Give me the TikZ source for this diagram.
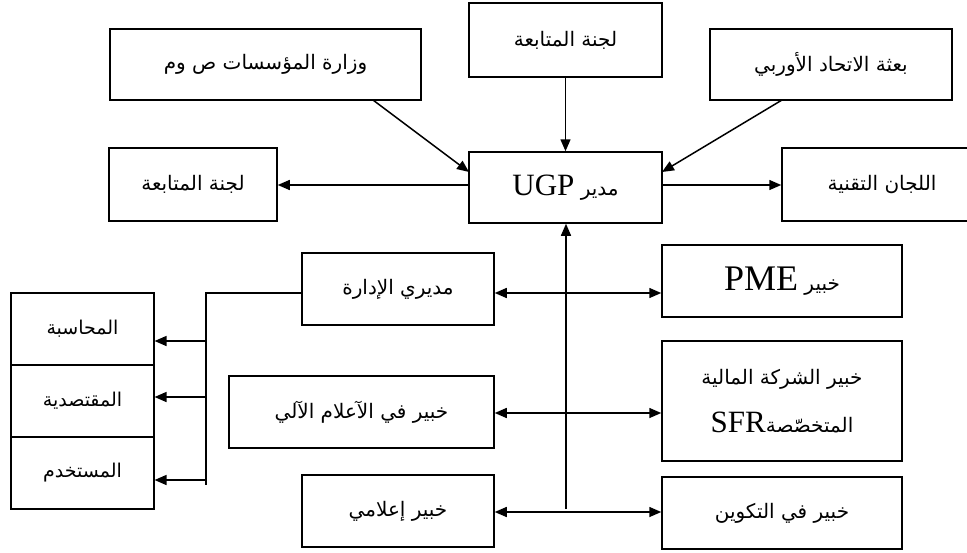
\documentclass[tikz,border=0pt]{standalone}
\usepackage{fontspec}
\setmainfont{Liberation Serif}
\newfontfamily\arabicfont[Script=Arabic]{DejaVu Sans}
\usetikzlibrary{arrows.meta}
\TeXXeTstate=1

% right-to-left Arabic line
\newcommand{\ar}[1]{{\arabicfont\beginR #1\endR}}
% left-to-right Latin run inside an Arabic line
\newcommand{\lt}[2]{\beginL{\fontsize{#1}{#1}\selectfont\rmfamily #2}\endL}

\begin{document}
\begin{tikzpicture}[x=1pt,y=-1pt,
  box/.style={draw, line width=1.5pt, inner sep=0pt, align=center,
    font=\fontsize{20}{40}\selectfont},
  cell/.style={draw, line width=1.1pt, inner sep=0pt,
    minimum width=143pt, minimum height=72pt, font=\fontsize{19}{30}\selectfont},
  arr/.style={line width=1.5pt, -{Triangle[length=12pt,width=10pt]}},
  dbl/.style={line width=1.5pt, {Triangle[length=12pt,width=10pt]}-{Triangle[length=12pt,width=10pt]}},
  link/.style={line width=1.5pt}]
\useasboundingbox (0,0) rectangle (967,552);

% top row
\node[box, minimum width=311pt, minimum height=71pt] (wz) at (265.5,64.5) {\ar{وزارة المؤسسات ص وم}};
\node[box, minimum width=193pt, minimum height=74pt] (tc) at (565.5,40) {\ar{لجنة المتابعة}};
\node[box, minimum width=242pt, minimum height=71pt] (eu) at (831,64.5) {\ar{بعثة الاتحاد الأوربي}};

% manager row
\node[box, minimum width=168pt, minimum height=73pt] (lf) at (193,184.5) {\ar{لجنة المتابعة}};
\node[box, minimum width=193pt, minimum height=71pt] (ugp) at (565.5,187.5) {\ar{مدير \lt{31}{UGP}}};
\node[box, minimum width=200pt, minimum height=73pt] (tech) at (882,184.5) {\ar{اللجان التقنية}};

% experts, left column
\node[box, minimum width=192pt, minimum height=72pt] (md) at (398,289) {\ar{مديري الإدارة}};
\node[box, minimum width=265pt, minimum height=72pt] (ia) at (361.5,412) {\ar{خبير في الآعلام الآلي}};
\node[box, minimum width=192pt, minimum height=72pt] (im) at (398,511) {\ar{خبير إعلامي}};

% experts, right column
\node[box, minimum width=240pt, minimum height=72pt] (pme) at (782,281) {\ar{خبير \lt{36}{PME}}};
\node[box, minimum width=240pt, minimum height=120pt] (sfr) at (782,401)
  {\ar{خبير الشركة المالية}\\[8pt] \ar{المتخصّصة\lt{31}{SFR}}};
\node[box, minimum width=240pt, minimum height=72pt] (tk) at (782,513) {\ar{خبير في التكوين}};

% departments stack
\node[cell] (s1) at (82.5,329) {\ar{المحاسبة}};
\node[cell] (s2) at (82.5,401) {\ar{المقتصدية}};
\node[cell] (s3) at (82.5,473) {\ar{المستخدم}};

% inputs to the manager
\draw[arr] (tc.south) -- (ugp.north);
\coordinate (wzs) at (373,100);
\coordinate (ugpl) at (469,172);
\draw[arr] (wzs) -- (ugpl);
\coordinate (eus) at (782,100);
\coordinate (ugpr) at (662,172);
\draw[arr] (eus) -- (ugpr);

% outputs of the manager
\coordinate (m0) at (0,185);
\draw[arr] (ugp.west |- m0) -- (lf.east |- m0);
\draw[arr] (ugp.east |- m0) -- (tech.west |- m0);

% central trunk
\coordinate (vbot) at (566,509);
\draw[arr] (vbot) -- (vbot |- ugp.south);

% two-way links across the trunk
\coordinate (r1) at (0,293);
\coordinate (r2) at (0,413);
\coordinate (r3) at (0,512);
\draw[dbl] (md.east |- r1) -- (pme.west |- r1);
\draw[dbl] (ia.east |- r2) -- (sfr.west |- r2);
\draw[dbl] (im.east |- r3) -- (tk.west |- r3);

% bracket from the administration to the departments
\coordinate (bx) at (206,485);
\draw[link] (md.west |- r1) -| (bx);
\coordinate (a1) at (206,341);
\coordinate (a2) at (206,397);
\coordinate (a3) at (206,480);
\draw[arr] (a1) -- (s1.east |- a1);
\draw[arr] (a2) -- (s2.east |- a2);
\draw[arr] (a3) -- (s3.east |- a3);
\end{tikzpicture}
\end{document}
